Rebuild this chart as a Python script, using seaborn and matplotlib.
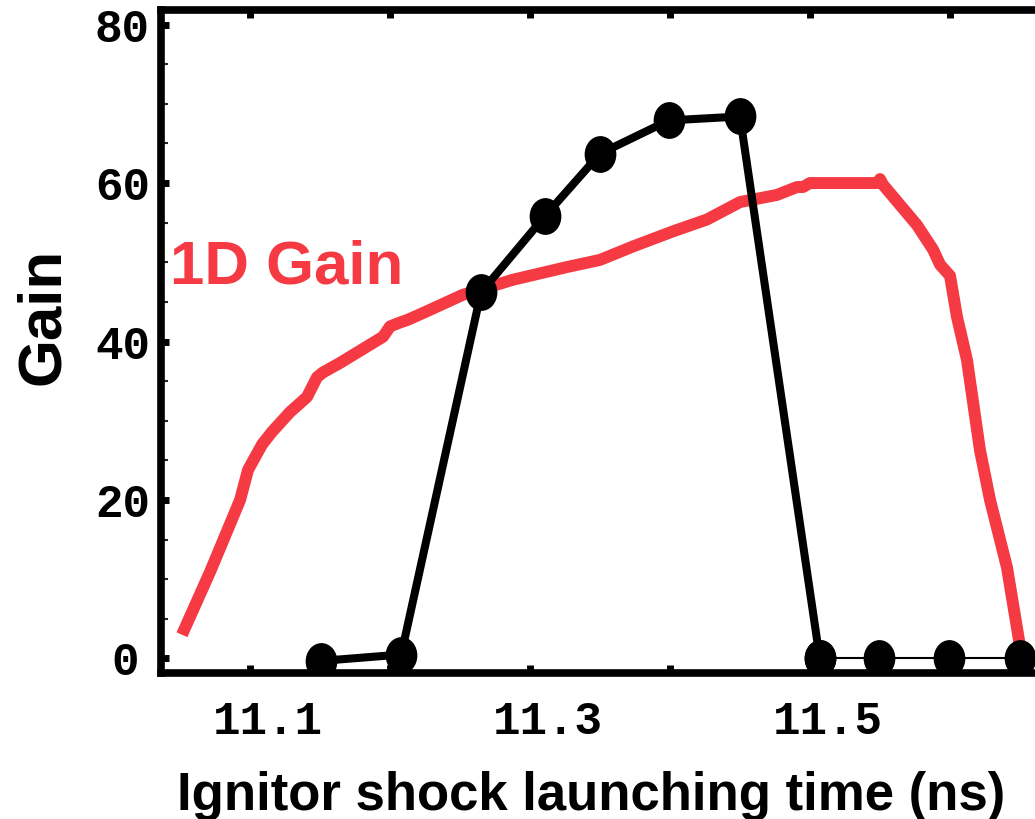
import numpy as np
import pandas as pd
import matplotlib
matplotlib.use("Agg")
import matplotlib.pyplot as plt
import seaborn as sns
from matplotlib.path import Path
from matplotlib.transforms import Affine2D, ScaledTranslation

# ---------------- data ----------------
red_x = [11.0514, 11.0714, 11.0929, 11.0986, 11.1086, 11.1157, 11.1286, 11.1407,
         11.1479, 11.1521, 11.1643, 11.1764, 11.1950, 11.2000, 11.2071, 11.2121,
         11.2236, 11.2521, 11.2879, 11.3264, 11.3500, 11.3736, 11.4021, 11.4264,
         11.4500, 11.4764, 11.4907, 11.4950, 11.5000, 11.5479, 11.5500, 11.5521,
         11.5764, 11.5879, 11.5929, 11.6000, 11.6050, 11.6121, 11.6214, 11.6286,
         11.6407, 11.6507]
red_y = [3.0, 10.9, 20.0, 23.8, 27.0, 28.6, 31.1, 33.0,
         35.5, 36.1, 37.3, 38.6, 40.6, 41.9, 42.4, 42.7,
         43.6, 45.9, 47.8, 49.4, 50.3, 52.0, 53.9, 55.4,
         57.6, 58.5, 59.5, 59.5, 60.0, 60.0, 60.5, 59.8,
         54.7, 51.6, 49.7, 48.3, 43.1, 37.7, 26.3, 20.0,
         11.5, 0.8]

black_x = [11.151, 11.208, 11.265, 11.311, 11.350, 11.399, 11.450, 11.507]
black_y = [-0.3, 0.5, 46.2, 55.9, 63.7, 67.9, 68.4, 0.0]

tail_x = [11.507, 11.549, 11.599, 11.650]
tail_y = [0.0, 0.0, 0.0, 0.0]

xtick_vals = [11.1, 11.2, 11.3, 11.4, 11.5, 11.6]
xtick_labels = ["11.1", "", "11.3", "", "11.5", ""]
ytick_vals = [0, 20, 40, 60, 80]
ytick_labels = ["0", "20", "40", "60", "80"]
ytick_minor = [5, 10, 15, 25, 30, 35, 45, 50, 55, 65, 70, 75]

series_label = "1D Gain"
xlabel = "Ignitor shock launching time (ns)"
ylabel = "Gain"

# ---------------- style ----------------
sns.set_style("white")
plt.rcParams["font.family"] = ["Liberation Sans", "DejaVu Sans"]

W, H = 1035, 819
DPI = 100
fig = plt.figure(figsize=(W / DPI, H / DPI), dpi=DPI)
fig.patch.set_facecolor("white")

x0, x1 = 11.03643, 11.70
px0 = 161
px1 = px0 + (x1 - x0) * 1400
ax = fig.add_axes([px0 / W, (H - 673) / H, (px1 - px0) / W, (673 - 9.5) / H])
ax.set_facecolor("white")

RED = "#f53a44"

red_df = pd.DataFrame({"t": red_x, "g": red_y})
sns.lineplot(data=red_df, x="t", y="g", ax=ax, color=RED, lw=8.6,
             solid_capstyle="butt", solid_joinstyle="round",
             estimator=None, sort=False, zorder=2)

ell = Path.unit_circle().transformed(Affine2D().scale(1.0, 1.16))

blk_df = pd.DataFrame({"t": black_x, "g": black_y})
sns.lineplot(data=blk_df, x="t", y="g", ax=ax, color="black", lw=5.8,
             marker=ell, markersize=26.5, markerfacecolor="black",
             markeredgecolor="black", markeredgewidth=0,
             estimator=None, sort=False, zorder=4)

tail_df = pd.DataFrame({"t": tail_x, "g": tail_y})
sns.lineplot(data=tail_df, x="t", y="g", ax=ax, color="black", lw=1.5,
             marker=ell, markersize=26.5, markerfacecolor="black",
             markeredgecolor="black", markeredgewidth=0,
             estimator=None, sort=False, zorder=4)

ax.set_xlim(x0, x1)
ax.set_ylim(-1.83, 81.9)
ax.set_xlabel("")
ax.set_ylabel("")

tick_font = dict(fontfamily="Liberation Mono", fontweight="bold", fontsize=33)
ax.set_xticks(xtick_vals, xtick_labels, **tick_font)
ax.set_yticks(ytick_vals, ytick_labels, **tick_font)
ax.set_yticks(ytick_minor, minor=True)

for s in ax.spines.values():
    s.set_linewidth(5.5)
    s.set_color("black")
    s.set_visible(True)

ax.tick_params(axis="x", which="major", direction="in", length=6, width=5,
               top=True, bottom=True, pad=19.5, colors="black")
ax.tick_params(axis="y", which="major", direction="in", length=6, width=5,
               left=True, right=True, pad=8, colors="black")
ax.tick_params(axis="y", which="minor", direction="in", length=5, width=1.5,
               left=True, right=True)
ax.grid(False)

for lab in ax.get_xticklabels():
    lab.set_transform(lab.get_transform() + ScaledTranslation(18 / DPI, 0, fig.dpi_scale_trans))
ylabs = ax.get_yticklabels()
ylabs[0].set_transform(ylabs[0].get_transform() + ScaledTranslation(-11 / DPI, 0, fig.dpi_scale_trans))

def fx(px):
    return px / W

def fy(py):
    return 1 - py / H

fig.text(fx(170), fy(268), series_label, color=RED, fontsize=44.5,
         fontweight="bold", ha="left", va="center")
fig.text(fx(44), fy(316), ylabel, color="black", fontsize=44.5,
         fontweight="bold", ha="center", va="center", rotation=90)
fig.text(fx(591), fy(796), xlabel, color="black", fontsize=38,
         fontweight="bold", ha="center", va="center")

fig.savefig("out.png", dpi=DPI, facecolor="white")
